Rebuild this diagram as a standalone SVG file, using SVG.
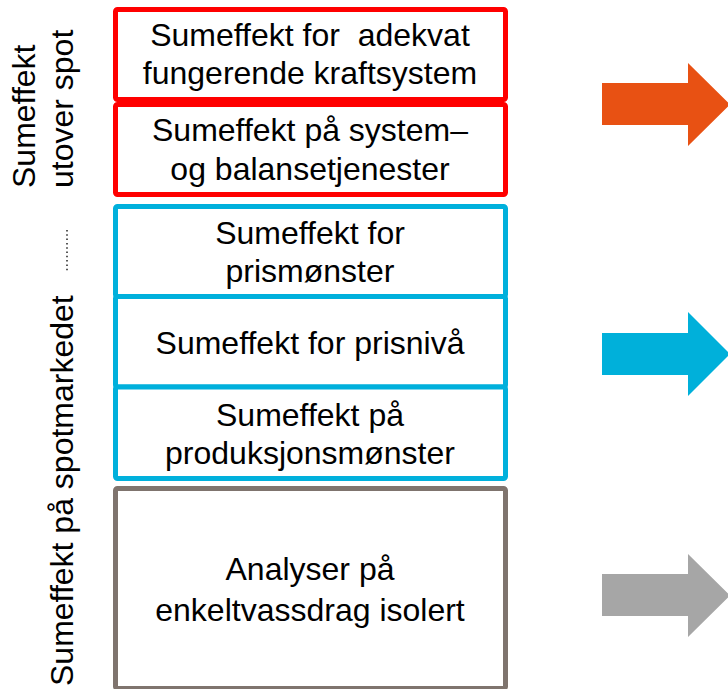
<svg xmlns="http://www.w3.org/2000/svg" width="728" height="689" viewBox="0 0 728 689">
<style>
  text { font-family: "Liberation Sans", Arial, sans-serif; font-size: 32px; fill: #000; }
  .c { text-anchor: middle; }
  .box { fill: #fff; stroke-width: 5; }
  .red { stroke: #FF0000; }
  .blue { stroke: #00B0DC; }
  .gray { stroke: #7F746E; }
</style>
<rect width="728" height="689" fill="#fff"/>
<g id="labels">
  <text transform="translate(35,188) rotate(-90)">Sumeffekt</text>
  <text transform="translate(73,188) rotate(-90)">utover spot</text>
  <text transform="translate(73,686) rotate(-90)">Sumeffekt på spotmarkedet</text>
  <line x1="67" y1="230" x2="67" y2="272" stroke="#222" stroke-width="1.5" stroke-dasharray="1.5 2.8"/>
</g>
<g id="box1">
  <rect class="box red" x="115.5" y="9.5" width="390" height="90" rx="2"/>
  <text class="c" x="310" y="46" xml:space="preserve" style="white-space:pre">Sumeffekt for  adekvat</text>
  <text class="c" x="310" y="84">fungerende kraftsystem</text>
</g>
<g id="box2">
  <rect class="box red" x="115.5" y="104.5" width="390" height="90" rx="2"/>
  <text class="c" x="310" y="141">Sumeffekt på system–</text>
  <text class="c" x="310" y="179.5">og balansetjenester</text>
</g>
<g id="box3">
  <rect class="box blue" x="115.5" y="206.5" width="390" height="90" rx="2"/>
  <text class="c" x="310" y="243.5">Sumeffekt for</text>
  <text class="c" x="310" y="282">prismønster</text>
</g>
<g id="box4">
  <rect class="box blue" x="115.5" y="296.5" width="390" height="90.5" rx="2"/>
  <text class="c" x="310" y="353.5">Sumeffekt for prisnivå</text>
</g>
<g id="box5">
  <rect class="box blue" x="115.5" y="387" width="390" height="91.5" rx="2"/>
  <text class="c" x="310" y="425.5">Sumeffekt på</text>
  <text class="c" x="310" y="464">produksjonsmønster</text>
</g>
<g id="box6">
  <rect class="box gray" x="115.5" y="488.5" width="390" height="200" rx="2"/>
  <text class="c" x="310" y="580">Analyser på</text>
  <text class="c" x="310" y="620.5">enkeltvassdrag isolert</text>
</g>
<g id="arrows">
  <polygon points="602,83 688,83 688,63 730,104.5 688,146 688,125 602,125" fill="#E85113"/>
  <polygon points="602,333 688,333 688,312 730,354 688,396 688,375 602,375" fill="#00B0DA"/>
  <polygon points="602,574 688,574 688,554 730,595.5 688,637 688,616 602,616" fill="#A6A6A6"/>
</g>
</svg>
